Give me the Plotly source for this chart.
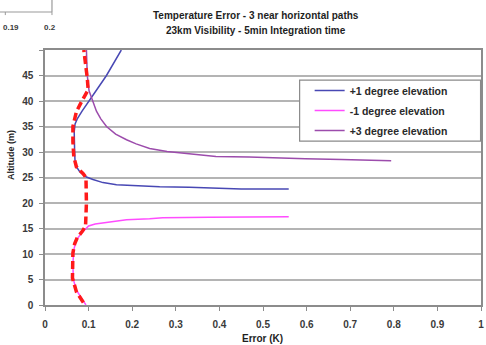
import plotly.graph_objects as go

# +1 degree elevation path (error in K vs altitude in m)
plus1_err = [0.175, 0.158, 0.141, 0.121, 0.100, 0.085, 0.074, 0.069, 0.067, 0.067, 0.068, 0.069,
             0.072, 0.080, 0.095, 0.110, 0.133, 0.164, 0.202, 0.263, 0.331, 0.400, 0.450, 0.559]
plus1_alt = [50, 47.5, 45, 42.5, 40, 38, 36.5, 35.5, 34, 32, 30, 28,
             27.1, 26.1, 25.1, 24.6, 24.0, 23.6, 23.4, 23.2, 23.1, 22.9, 22.75, 22.75]

# -1 degree elevation path
minus1_err = [0.094, 0.084, 0.072, 0.065, 0.064, 0.066, 0.072, 0.084, 0.091, 0.100, 0.115,
              0.148, 0.187, 0.240, 0.270, 0.377, 0.559]
minus1_alt = [0, 1.3, 2.9, 5, 8, 10.8, 12.8, 14.1, 14.8, 15.5, 15.9,
              16.3, 16.7, 16.9, 17.1, 17.2, 17.3]

# +3 degree elevation path
plus3_err = [0.095, 0.097, 0.101, 0.109, 0.118, 0.128, 0.141, 0.162, 0.187, 0.209, 0.240,
             0.280, 0.339, 0.392, 0.468, 0.529, 0.597, 0.680, 0.794]
plus3_alt = [50, 45, 42, 40, 38, 36.5, 35, 33.5, 32.4, 31.6, 30.7,
             30.1, 29.6, 29.1, 29.0, 28.8, 28.7, 28.55, 28.3]

# best achievable error over all three paths
best_err = [0.088, 0.084, 0.072, 0.063, 0.064, 0.068, 0.074, 0.086, 0.093, 0.095, 0.094,
            0.087, 0.072, 0.066, 0.064, 0.064, 0.072, 0.084, 0.099, 0.097, 0.091, 0.089]
best_alt = [0.5, 1, 2.6, 5.3, 10.2, 12, 13.2, 14.5, 15.5, 20, 25,
            25.8, 27.1, 29.1, 32, 35, 37.9, 39.9, 42.2, 44.5, 48.4, 50]

x_ticks = [0, 0.1, 0.2, 0.3, 0.4, 0.5, 0.6, 0.7, 0.8, 0.9, 1]
x_labels = ["0", "0.1", "0.2", "0.3", "0.4", "0.5", "0.6", "0.7", "0.8", "0.9", "1"]
y_ticks = [0, 5, 10, 15, 20, 25, 30, 35, 40, 45, 50]
y_labels = ["0", "5", "10", "15", "20", "25", "30", "35", "40", "45", ""]

FONT = "Liberation Sans, Arial, sans-serif"
TXT = "#3a3a3a"

fig = go.Figure()
fig.add_trace(go.Scatter(x=plus1_err, y=plus1_alt, mode="lines", name="+1 degree elevation",
                         legendgroup="a", line=dict(color="#4848b4", width=1.5)))
fig.add_trace(go.Scatter(x=minus1_err, y=minus1_alt, mode="lines", name="-1 degree elevation",
                         legendgroup="b", line=dict(color="#ff4cff", width=1.5)))
fig.add_trace(go.Scatter(x=plus3_err, y=plus3_alt, mode="lines", name="+3 degree elevation",
                         legendgroup="c", line=dict(color="#9c4cac", width=1.5)))
fig.add_trace(go.Scatter(x=best_err, y=best_alt, mode="lines", showlegend=False,
                         line=dict(color="#ff1a1a", width=3.5, dash="8px,4px")))

fig.update_layout(
    width=486, height=345,
    margin=dict(l=45, r=3, t=50, b=40),
    paper_bgcolor="white", plot_bgcolor="white",
    font=dict(family=FONT, size=10, color=TXT),
    showlegend=True,
    legend=dict(x=0.607, y=0.898, xanchor="left", yanchor="top",
                bgcolor="rgba(0,0,0,0)", borderwidth=0,
                tracegroupgap=1, traceorder="grouped",
                font=dict(family=FONT, size=10.5, color="#2a2a2a", weight="bold")),
    xaxis=dict(range=[0, 1], tickvals=x_ticks, ticktext=x_labels, showgrid=False,
               zeroline=False, showline=True, linecolor="#8c8c8c", linewidth=1.5,
               mirror=True, ticks="outside", ticklen=4, tickcolor="#8c8c8c",
               tickfont=dict(family=FONT, size=10, color=TXT, weight="bold"),
               ticklabelstandoff=5),
    yaxis=dict(range=[0, 50], tickvals=y_ticks, ticktext=y_labels, showgrid=True,
               gridcolor="#b4b4b4", gridwidth=2, zeroline=False, showline=True,
               linecolor="#8c8c8c", linewidth=1.5, mirror=True, ticks="outside",
               ticklen=4, tickcolor="#8c8c8c",
               tickfont=dict(family=FONT, size=10, color=TXT, weight="bold"),
               ticklabelstandoff=4),
    shapes=[
        # legend frame
        dict(type="rect", xref="paper", yref="paper", x0=0.584, x1=0.999, y0=0.643, y1=0.882,
             line=dict(color="#8a8a8a", width=1.2), fillcolor="white", layer="above"),
        # corner of the neighbouring chart on the page
        dict(type="line", xref="paper", yref="paper", x0=-0.11, x1=0.016, y0=1.149, y1=1.149,
             line=dict(color="#9a9a9a", width=1.2)),
        dict(type="line", xref="paper", yref="paper", x0=0.016, x1=0.016, y0=1.149, y1=1.2,
             line=dict(color="#9a9a9a", width=1.2)),
        dict(type="line", xref="paper", yref="paper", x0=-0.091, x1=-0.091, y0=1.149, y1=1.137,
             line=dict(color="#9a9a9a", width=1)),
        dict(type="line", xref="paper", yref="paper", x0=0.016, x1=0.016, y0=1.149, y1=1.137,
             line=dict(color="#9a9a9a", width=1)),
    ],
    annotations=[
        dict(text="Temperature Error - 3 near horizontal paths", xref="paper", yref="paper",
             x=0.484, y=1.137, showarrow=False, xanchor="center", yanchor="middle",
             font=dict(family=FONT, size=10, color="#1e1e1e", weight="bold")),
        dict(text="23km Visibility - 5min Integration time", xref="paper", yref="paper",
             x=0.484, y=1.078, showarrow=False, xanchor="center", yanchor="middle",
             font=dict(family=FONT, size=10, color="#1e1e1e", weight="bold")),
        dict(text="Error (K)", xref="paper", yref="paper", x=0.498, y=-0.13,
             showarrow=False, xanchor="center", yanchor="middle",
             font=dict(family=FONT, size=10, color="#1e1e1e", weight="bold")),
        dict(text="Altitude (m)", xref="paper", yref="paper", x=-0.078, y=0.588,
             showarrow=False, textangle=-90, xanchor="center", yanchor="middle",
             font=dict(family=FONT, size=9, color="#1e1e1e", weight="bold")),
        dict(text="0.19", xref="paper", yref="paper", x=-0.1, y=1.09,
             showarrow=False, xanchor="left", yanchor="middle",
             font=dict(family=FONT, size=8, color=TXT, weight="bold")),
        dict(text="0.2", xref="paper", yref="paper", x=0.012, y=1.09,
             showarrow=False, xanchor="center", yanchor="middle",
             font=dict(family=FONT, size=8, color=TXT, weight="bold")),
    ],
)

fig.write_html("out.html")
